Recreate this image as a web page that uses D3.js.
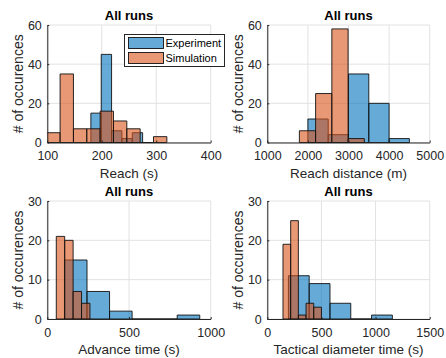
<!DOCTYPE html>
<html>
<head>
<meta charset="utf-8">
<script src="https://cdn.jsdelivr.net/npm/d3@7"></script>
<style>
  body { margin: 0; background: #fff; }
  svg { display: block; }
  text { font-family: "Liberation Sans", Arial, Helvetica, sans-serif; }
</style>
</head>
<body>
<script>
// ---- Histogram data: bin edges and counts per quantity ----
const seriesNames = ["Experiment", "Simulation"];

const reachExpEdges = [180, 199, 218, 237, 256, 275];
const reachExpCounts = [15, 45, 6, 2, 5];
const reachSimEdges = [99, 123.5, 148, 172.5, 197, 221.5, 246, 270.5, 295, 319.5];
const reachSimCounts = [5, 35, 7, 7, 16, 11, 7, 0, 3];

const distExpEdges = [2000, 2500, 3000, 3500, 4000, 4500];
const distExpCounts = [12, 4, 35, 20, 2];
const distSimEdges = [1790, 2190, 2590, 2990, 3390];
const distSimCounts = [6, 25, 58, 2];

const advExpEdges = [105, 243, 381, 519, 657, 795, 933];
const advExpCounts = [15, 7, 2, 0, 0, 1];
const advSimEdges = [55, 106.5, 158, 209.5, 261];
const advSimCounts = [21, 20, 7, 4];

const tacExpEdges = [195, 387, 579, 771, 963, 1155];
const tacExpCounts = [11, 9, 4, 0, 1];
const tacSimEdges = [145, 216, 287, 358, 429, 500];
const tacSimCounts = [19, 25, 1, 4, 3];

// ---- Axis ticks ----
const reachTicks = [100, 200, 300, 400];
const distTicks = [1000, 2000, 3000, 4000, 5000];
const advTicks = [0, 500, 1000];
const tacTicks = [0, 500, 1000, 1500];
const countTicksTop = [0, 20, 40, 60];
const countTicksBottom = [0, 10, 20, 30];

const titleText = "All runs";
const yLabelText = "# of occurences";

// ---- Styling ----
const expColor = "#0072BD";
const simColor = "#D95319";
const faceAlpha = 0.6;
const axisColor = "#262626";
const gridColor = "#e2e2e2";

const W = 446, H = 358;
const svg = d3.select("body").append("svg").attr("width", W).attr("height", H);

const colL = [47.3, 210.7], colR = [267.3, 429.7];
const rowT = [25, 142.5], rowB = [201, 319];

const panels = [
  { id: "reach", xr: colL, yr: rowT, xDomain: [100, 400], xTicks: reachTicks, yDomain: [0, 60], yTicks: countTicksTop,
    xlabel: "Reach (s)", exp: [reachExpEdges, reachExpCounts], sim: [reachSimEdges, reachSimCounts], legend: true },
  { id: "dist", xr: colR, yr: rowT, xDomain: [1000, 5000], xTicks: distTicks, yDomain: [0, 60], yTicks: countTicksTop,
    xlabel: "Reach distance (m)", exp: [distExpEdges, distExpCounts], sim: [distSimEdges, distSimCounts] },
  { id: "adv", xr: colL, yr: rowB, xDomain: [0, 1000], xTicks: advTicks, yDomain: [0, 30], yTicks: countTicksBottom,
    xlabel: "Advance time (s)", exp: [advExpEdges, advExpCounts], sim: [advSimEdges, advSimCounts] },
  { id: "tac", xr: colR, yr: rowB, xDomain: [0, 1500], xTicks: tacTicks, yDomain: [0, 30], yTicks: countTicksBottom,
    xlabel: "Tactical diameter time (s)", exp: [tacExpEdges, tacExpCounts], sim: [tacSimEdges, tacSimCounts] }
];

const defs = svg.append("defs");

panels.forEach(p => {
  const x = d3.scaleLinear().domain(p.xDomain).range(p.xr);
  const y = d3.scaleLinear().domain(p.yDomain).range([p.yr[1], p.yr[0]]);
  const g = svg.append("g");

  defs.append("clipPath").attr("id", "clip-" + p.id)
    .append("rect")
    .attr("x", p.xr[0]).attr("y", p.yr[0] - 1)
    .attr("width", p.xr[1] - p.xr[0]).attr("height", p.yr[1] - p.yr[0] + 2);

  // grid lines (including the limits, which form the light top/right border)
  const grid = g.append("g");
  grid.selectAll("line.gx").data(p.xTicks).join("line")
    .attr("x1", d => x(d)).attr("x2", d => x(d))
    .attr("y1", p.yr[0]).attr("y2", p.yr[1])
    .attr("stroke", gridColor).attr("stroke-width", 1);
  grid.selectAll("line.gy").data(p.yTicks).join("line")
    .attr("x1", p.xr[0]).attr("x2", p.xr[1])
    .attr("y1", d => y(d)).attr("y2", d => y(d))
    .attr("stroke", gridColor).attr("stroke-width", 1);

  // histogram bars
  const bars = g.append("g").attr("clip-path", `url(#clip-${p.id})`);
  const drawHist = (edges, counts, color) => {
    const bins = counts.map((c, i) => ({ x0: edges[i], x1: edges[i + 1], c }));
    bars.append("g").selectAll("path").data(bins).join("path")
      .attr("d", d => {
        const a = x(d.x0), b = x(d.x1), y0 = y(0), y1 = y(d.c);
        return `M${a},${y0}V${y1}H${b}V${y0}Z`;
      })
      .attr("fill", color).attr("fill-opacity", faceAlpha)
      .attr("stroke", "#111").attr("stroke-width", 0.9);
  };
  drawHist(p.exp[0], p.exp[1], expColor);
  drawHist(p.sim[0], p.sim[1], simColor);

  // axes
  const xAxis = d3.axisBottom(x).tickValues(p.xTicks).tickSizeInner(-2).tickSizeOuter(0).tickPadding(9)
    .tickFormat(d3.format("d"));
  const yAxis = d3.axisLeft(y).tickValues(p.yTicks).tickSizeInner(-2).tickSizeOuter(0).tickPadding(5.5)
    .tickFormat(d3.format("d"));

  const gx = g.append("g").attr("transform", `translate(0,${p.yr[1]})`).call(xAxis);
  const gy = g.append("g").attr("transform", `translate(${p.xr[0]},0)`).call(yAxis);
  [gx, gy].forEach(a => {
    a.select(".domain").attr("stroke", axisColor).attr("stroke-width", 1);
    a.selectAll(".tick line").attr("stroke", axisColor);
    a.selectAll(".tick text").attr("fill", axisColor).attr("font-size", 12.5)
      .attr("font-family", '"Liberation Sans", Arial, sans-serif');
  });

  // title
  g.append("text")
    .attr("x", (p.xr[0] + p.xr[1]) / 2).attr("y", p.yr[0] - 5)
    .attr("text-anchor", "middle").attr("font-size", 13).attr("font-weight", "bold")
    .attr("fill", "#000").text(titleText);

  // x label
  g.append("text")
    .attr("x", (p.xr[0] + p.xr[1]) / 2).attr("y", p.yr[1] + 35)
    .attr("text-anchor", "middle").attr("font-size", 13.5)
    .attr("fill", axisColor).text(p.xlabel);

  // y label
  const cy = (p.yr[0] + p.yr[1]) / 2;
  g.append("text")
    .attr("transform", `translate(${p.xr[0] - 24},${cy}) rotate(-90)`)
    .attr("text-anchor", "middle").attr("font-size", 14)
    .attr("fill", axisColor).text(yLabelText);

  // legend
  if (p.legend) {
    const lg = svg.append("g");
    lg.append("rect").attr("x", 124.5).attr("y", 34.5).attr("width", 100).attr("height", 32)
      .attr("fill", "#fff").attr("stroke", axisColor).attr("stroke-width", 1);
    const colors = [expColor, simColor];
    seriesNames.forEach((name, i) => {
      const yy = 37.5 + i * 15;
      lg.append("rect").attr("x", 128.5).attr("y", yy).attr("width", 35).attr("height", 11)
        .attr("fill", colors[i]).attr("fill-opacity", faceAlpha)
        .attr("stroke", "#111").attr("stroke-width", 0.9);
      lg.append("text").attr("x", 165.5).attr("y", yy + 5.5).attr("dy", "0.35em")
        .attr("font-size", 11).attr("fill", "#000").text(name);
    });
  }
});
</script>
</body>
</html>
